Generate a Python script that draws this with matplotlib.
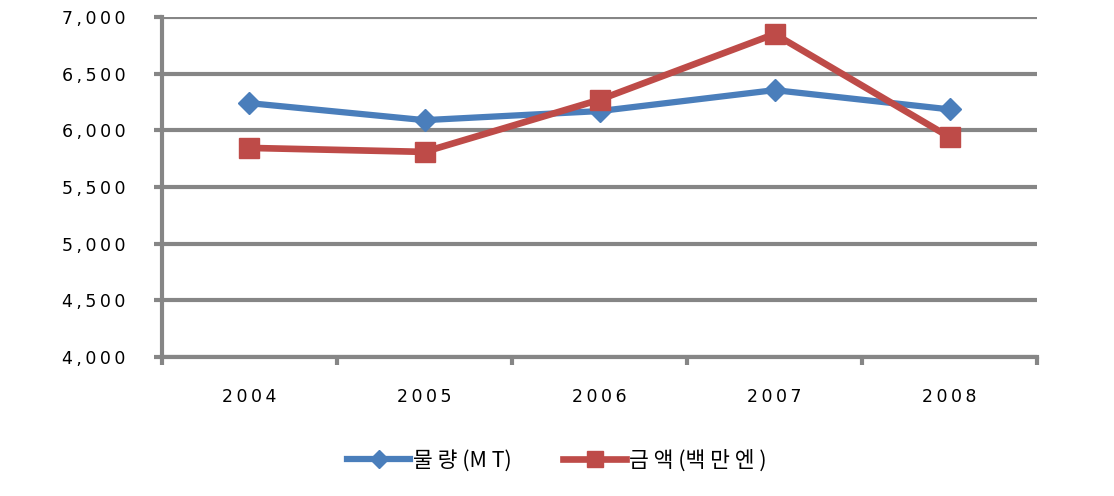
import matplotlib
matplotlib.use('Agg')
import matplotlib.pyplot as plt
from matplotlib.ticker import FuncFormatter

years = ['2004', '2005', '2006', '2007', '2008']
volume = [6240, 6090, 6170, 6355, 6185]      # 물량 (MT)
amount = [5845, 5810, 6270, 6850, 5940]      # 금액 (백만엔)
labels = ['물 량 (M T)', '금 액 (백 만 엔 )']

plt.rcParams['font.family'] = ['Noto Sans CJK KR', 'DejaVu Sans']

grid_c = '#868686'

def spaced(s):
    return '\u2009'.join(s)

fig = plt.figure(figsize=(11.14, 4.96), dpi=100)
ax = fig.add_axes([0.1454, 0.2802, 0.7856, 0.6855])

x = list(range(len(years)))
ax.plot(x, volume, color='#4A7EBB', lw=4.5, marker='D', ms=11,
        label=labels[0], solid_joinstyle='round')
ax.plot(x, amount, color='#BE4B48', lw=4.8, marker='s', ms=15,
        label=labels[1], solid_joinstyle='round')

ax.set_ylim(4000, 7000)
ax.set_yticks(range(4000, 7001, 500))
ax.yaxis.set_major_formatter(FuncFormatter(lambda v, p: spaced(f'{int(v):,}')))
ax.set_xlim(-0.5, len(years) - 0.5)
ax.set_xticks(x)
ax.set_xticklabels([spaced(y) for y in years])
ax.set_xticks([i - 0.5 for i in range(len(years) + 1)], minor=True)

ax.yaxis.grid(True, color=grid_c, lw=3)
ax.set_axisbelow(True)
for s in ['top', 'right']:
    ax.spines[s].set_visible(False)
for s in ['left', 'bottom']:
    ax.spines[s].set_color(grid_c)
    ax.spines[s].set_linewidth(3)

ax.tick_params(axis='y', length=6, width=3, color=grid_c, labelsize=12.5, pad=20)
ax.tick_params(axis='x', which='major', length=0, labelsize=12.5, pad=22)
ax.tick_params(axis='x', which='minor', length=6, width=3, color=grid_c)
for t in ax.get_xticklabels() + ax.get_yticklabels():
    t.set_family('DejaVu Sans')

fig.legend(loc='lower center', bbox_to_anchor=(0.5, 0.01), ncol=2, frameon=False,
           fontsize=15.5, handlelength=2.9, columnspacing=2.4, handletextpad=0.15,
           markerscale=0.8)

fig.savefig('out.png', dpi=100)
